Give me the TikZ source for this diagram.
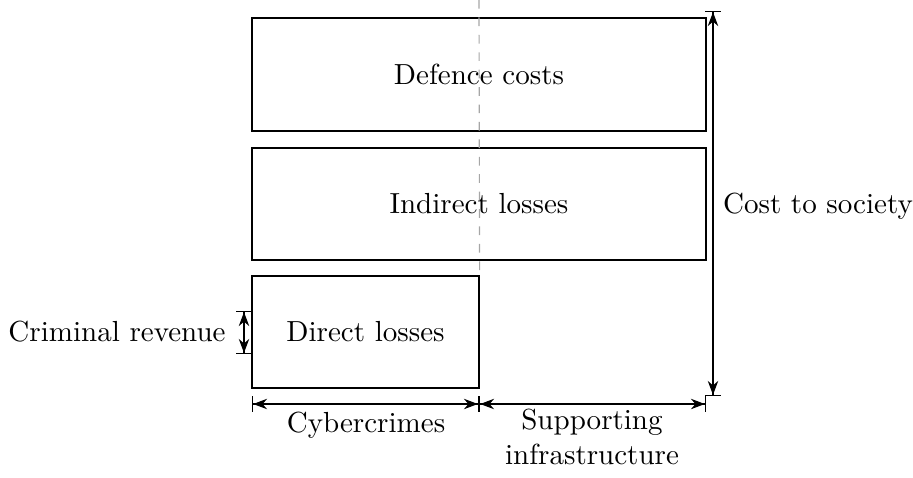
\documentclass[tikz,border=0pt]{standalone}
\usetikzlibrary{arrows.meta}
\tikzset{>=Stealth,
  costbox/.style={draw, inner sep=0pt},
  span/.style={{Bar[width=5.5pt]Stealth[]}-{Stealth[]Bar[width=5.5pt]}}}

\begin{document}
\begin{tikzpicture}[x=0.3444pt, y=-0.3444pt]
\useasboundingbox (0,0) rectangle (913,477);
\node[costbox, minimum width=156.4pt, minimum height=38.9pt] (defence) at (479,74.5) {Defence costs};
\node[costbox, minimum width=156.4pt, minimum height=38.6pt] (indirect) at (479,204) {Indirect losses};
\node[costbox, minimum width=78.2pt, minimum height=38.6pt] (direct) at (365.5,332) {Direct losses};
\coordinate (split) at (479,0);
\draw[dashed, gray!70] (split) -- (direct.north east);
% cost to society
\coordinate (ctop) at (713,11);
\coordinate (cbot) at (713,396);
\draw[span] (ctop) -- (cbot);
\node (society) at (818,206) {Cost to society};
% bottom spans
\coordinate (bl) at (252,404);
\coordinate (bm) at (479,404);
\coordinate (br) at (706,404);
\draw[span] (bl) -- (bm);
\draw[span] (bm) -- (br);
\node (cyber) at (366,425) {Cybercrimes};
\node[align=center] (support) at (592,437) {Supporting\\infrastructure};
% criminal revenue
\coordinate (rtop) at (244,311);
\coordinate (rbot) at (244,354);
\draw[span] (rtop) -- (rbot);
\node (revenue) at (117,332) {Criminal revenue};
\end{tikzpicture}
\end{document}
